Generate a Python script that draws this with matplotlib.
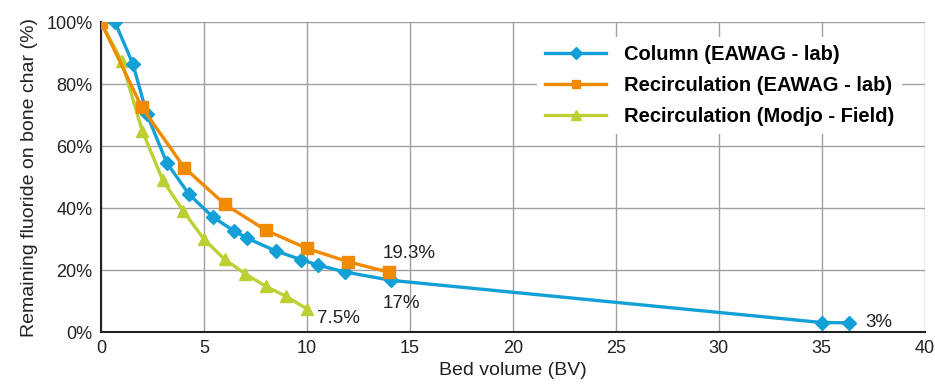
import numpy as np
import matplotlib
matplotlib.use("Agg")
import matplotlib.pyplot as plt

plt.rcParams['font.family'] = ['Liberation Sans', 'DejaVu Sans']

# Column (EAWAG - lab)
col_bv = [0, 0.68, 1.55, 2.23, 3.19, 4.27, 5.42, 6.47, 7.1, 8.48, 9.71, 10.55, 11.84, 14.1, 35.0, 36.3]
col_pct = [100, 100, 86.5, 70.3, 54.7, 44.5, 37.2, 32.6, 30.3, 26.2, 23.4, 21.6, 19.4, 16.7, 3.1, 3.0]

# Recirculation (EAWAG - lab)
rec_bv = [0, 1.97, 4.04, 6.02, 8.0, 10.0, 12.0, 14.0]
rec_pct = [100, 72.7, 53.1, 41.2, 32.9, 27.0, 22.7, 19.3]

# Recirculation (Modjo - Field)
mod_bv = [0, 1.0, 2.0, 3.0, 4.0, 5.0, 6.0, 7.0, 8.0, 9.0, 10.0]
mod_pct = [100, 87.5, 65.0, 49.0, 39.0, 30.0, 23.5, 18.8, 14.8, 11.5, 7.5]

labels = ["Column (EAWAG - lab)", "Recirculation (EAWAG - lab)", "Recirculation (Modjo - Field)"]

blue = '#12a0d7'
orange = '#f08a00'
green = '#bcd034'

fig = plt.figure(figsize=(9.35, 3.88), dpi=100)
ax = fig.add_axes([0.108, 0.144, 0.881, 0.799])

ax.plot(col_bv, col_pct, color=blue, lw=2.4, marker='D', ms=7.5, label=labels[0], zorder=3)
ax.plot(rec_bv, rec_pct, color=orange, lw=2.4, marker='s', ms=8, label=labels[1], zorder=4)
ax.plot(mod_bv, mod_pct, color=green, lw=2.4, marker='^', ms=9, label=labels[2], zorder=2)

ax.text(13.7, 24.0, "19.3%", fontsize=13.5, color='#222222')
ax.text(13.7, 7.8, "17%", fontsize=13.5, color='#222222')
ax.text(10.5, 2.8, "7.5%", fontsize=13.5, color='#222222')
ax.text(37.1, 1.5, "3%", fontsize=13.5, color='#222222')

ax.set_xlim(0, 40)
ax.set_ylim(0, 100)
ax.set_xticks(range(0, 41, 5))
ax.set_yticks(range(0, 101, 20))
ax.set_yticklabels([f"{v}%" for v in range(0, 101, 20)])
ax.tick_params(length=0, labelsize=13, colors='#222222', pad=6)
ax.grid(True, color='#a0a0a0', lw=1)
ax.set_axisbelow(True)
for s in ['top', 'right']:
    ax.spines[s].set_visible(False)
for s in ['left', 'bottom']:
    ax.spines[s].set_color('#222222')
    ax.spines[s].set_linewidth(1.5)

ax.set_xlabel("Bed volume (BV)", fontsize=14, color='#222222', labelpad=3)
ax.set_ylabel("Remaining fluoride on bone char (%)", fontsize=14, color='#222222', labelpad=6)

leg = ax.legend(loc='upper right', bbox_to_anchor=(0.985, 0.985), frameon=True, fancybox=False,
                edgecolor='none', facecolor='white', framealpha=1,
                prop={'weight': 'bold', 'size': 14.5}, handlelength=3.0, labelspacing=0.6,
                markerscale=0.8, handletextpad=0.9)

fig.savefig("out.png", dpi=100)
